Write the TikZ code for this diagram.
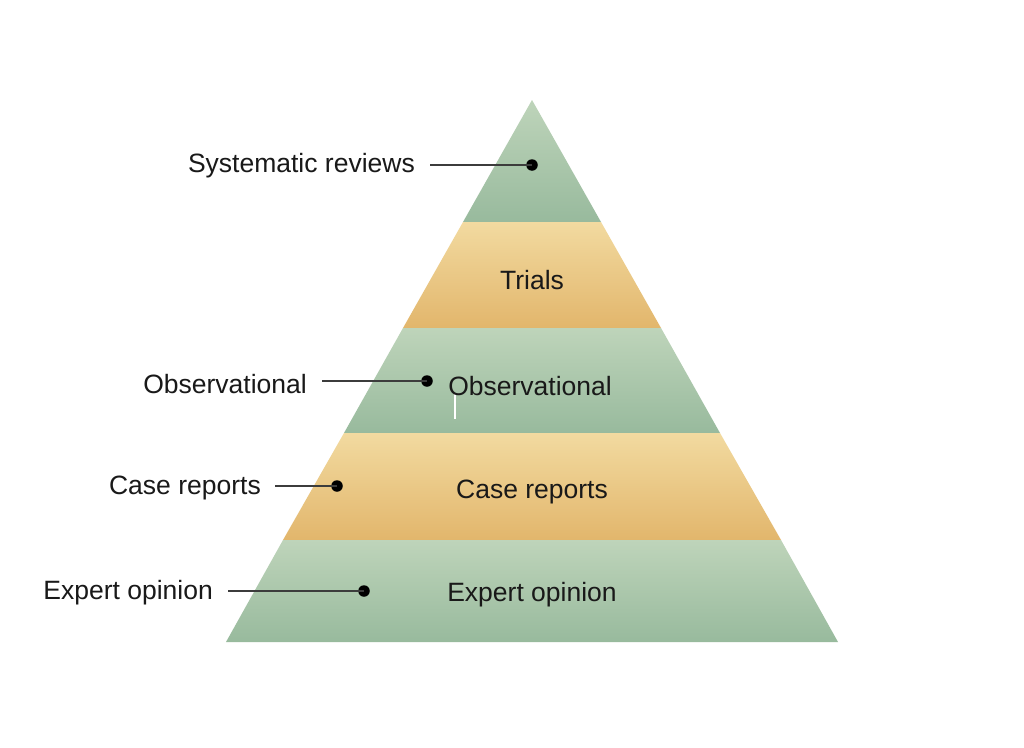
\documentclass[tikz,border=0pt]{standalone}
\usepackage{fontspec}
\setmainfont{Liberation Sans}
\definecolor{gtop}{RGB}{190,212,186}
\definecolor{gbot}{RGB}{152,186,157}
\definecolor{ytop}{RGB}{242,218,160}
\definecolor{ybot}{RGB}{226,182,108}
\definecolor{ink}{RGB}{25,25,25}
\begin{document}
\begin{tikzpicture}[x=1pt,y=-1pt,
  lbl/.style={font=\fontsize{26.5}{30}\selectfont, text=ink, inner sep=0pt},
  lead/.style={draw=ink!85, line width=1.5pt},
  pin/.style={circle, fill=black, inner sep=0pt, minimum size=11.5pt},
  gband/.style={top color=gtop, bottom color=gbot, draw=none},
  yband/.style={top color=ytop, bottom color=ybot, draw=none}]
\useasboundingbox[fill=white] (0,0) rectangle (1024,747);
% bands
\shade[gband] (532,100) -- (601,222) -- (463,222) -- cycle;
\shade[yband] (463,222) -- (601,222) -- (661,328) -- (403,328) -- cycle;
\shade[gband] (403,328) -- (661,328) -- (720,433) -- (344,433) -- cycle;
\shade[yband] (344,433) -- (720,433) -- (781,540) -- (283,540) -- cycle;
\shade[gband] (283,540) -- (781,540) -- (838,642) -- (226,642) -- cycle;
% small artifact line
\draw[white, line width=1.2pt] (455,393) -- (455,419);
% inner labels
\node[lbl] (trials) at (532,280) {Trials};
\node[lbl] (obsin) at (530,386) {Observational};
\node[lbl] (casein) at (532,492) {Case reports};
\node[lbl] (expin) at (532,595) {Expert opinion};
% outer labels
\node[lbl, anchor=east] (sysl) at (415,166) {Systematic reviews};
\node[lbl, anchor=east] (obsl) at (307,384) {Observational};
\node[lbl, anchor=east] (casel) at (261,488) {Case reports};
\node[lbl, anchor=east] (expl) at (213,593) {Expert opinion};
% pins
\node[pin] (p1) at (532,165) {};
\node[pin] (p2) at (427,381) {};
\node[pin] (p3) at (337,486) {};
\node[pin] (p4) at (364,591) {};
\coordinate (s1) at (430,165);
\coordinate (s2) at (322,381);
\coordinate (s3) at (275,486);
\coordinate (s4) at (228,591);
\draw[lead] (s1) -- (p1.center);
\draw[lead] (s2) -- (p2.center);
\draw[lead] (s3) -- (p3.center);
\draw[lead] (s4) -- (p4.center);
\end{tikzpicture}
\end{document}
